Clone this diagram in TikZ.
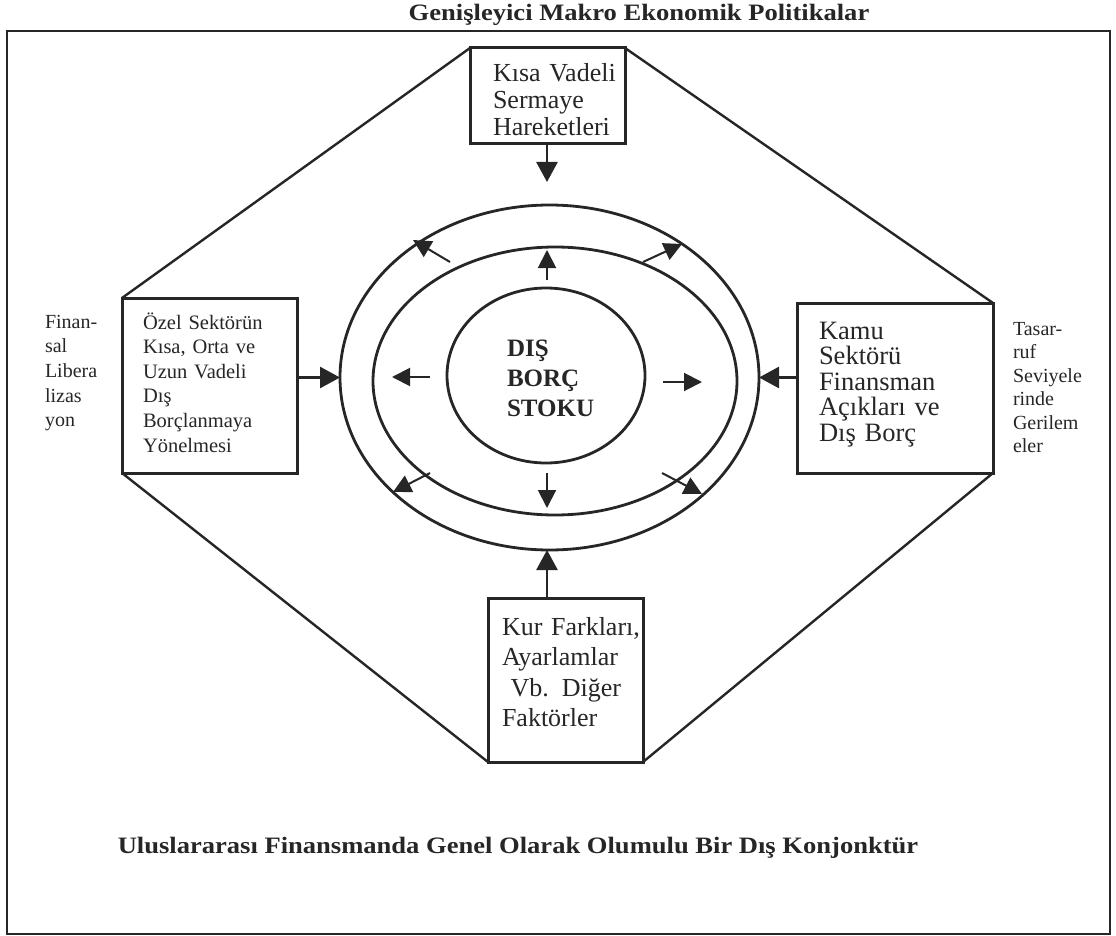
\documentclass[tikz,border=0pt]{standalone}
\usepackage{fontspec}
\setmainfont{Liberation Serif}
\newfontfamily\widebf[FakeStretch=1.13]{Liberation Serif}
\usetikzlibrary{arrows.meta,shapes.geometric}
\begin{document}
\begin{tikzpicture}[x=1pt,y=-1pt,
  ink/.style={draw=black!85},
  boxst/.style={ink, line width=3pt, inner sep=0pt, outer sep=0pt},
  ring/.style={ink, ellipse, line width=2.8pt, inner sep=0pt, outer sep=0pt},
  edge/.style={ink, line width=2.4pt},
  txt/.style={inner sep=0pt, outer sep=0pt, align=left, text=black!85},
  bigarrow/.style={ink, line width=2.6pt, -{Triangle[length=20pt,width=21pt]}},
  smallarrow/.style={ink, line width=2pt, -{Triangle[length=18pt,width=18pt]}}
]
\useasboundingbox (0,0) rectangle (1116,936);
% outer frame
\draw[ink, line width=2.5pt] (7,31) rectangle (1110,934);
\node[txt, anchor=base, font=\widebf\bfseries\fontsize{23.5}{28}\selectfont] (title) at (639,21) {Genişleyici Makro Ekonomik Politikalar};
\node[txt, anchor=base, font=\widebf\bfseries\fontsize{23.5}{28}\selectfont] (konj) at (518,853) {Uluslararası Finansmanda Genel Olarak Olumulu Bir Dış Konjonktür};

% boxes
\node[boxst, minimum width=155pt, minimum height=96pt] (kisa) at (547.5,96) {};
\node[boxst, minimum width=175pt, minimum height=175pt] (ozel) at (209.5,385.5) {};
\node[boxst, minimum width=196pt, minimum height=170pt] (kamu) at (895,388) {};
\node[boxst, minimum width=155pt, minimum height=164pt] (kur) at (565.5,680) {};

% octagon edges
\draw[edge] (kisa.north west) -- (ozel.north west);
\draw[edge] (kisa.north east) -- (kamu.north east);
\draw[edge] (ozel.south west) -- (kur.south west);
\draw[edge] (kamu.south east) -- (kur.south east);

% box texts
\node[txt, anchor=base west, text width=140pt, font=\fontsize{26}{27}\selectfont] (kisaT) at (493,82) {Kısa Vadeli\\Sermaye\\Hareketleri};
\node[txt, anchor=base west, text width=150pt, font=\fontsize{20.5}{24.6}\selectfont] (ozelT) at (143,329) {Özel Sektörün\\Kısa, Orta ve\\Uzun Vadeli\\Dış\\Borçlanmaya\\Yönelmesi};
\node[txt, anchor=base west, text width=170pt, font=\fontsize{26.5}{25.5}\selectfont] (kamuT) at (819,339) {Kamu\\Sektörü\\Finansman\\Açıkları ve\\Dış Borç};
\node[txt, anchor=base west, text width=150pt, font=\fontsize{26}{30.5}\selectfont] (kurT) at (502,635) {Kur Farkları,\\Ayarlamlar\\\ Vb. Diğer\\Faktörler};

% side labels
\node[txt, anchor=base west, text width=70pt, font=\fontsize{20}{24.7}\selectfont] (finL) at (45,328) {Finan-\\sal\\Libera\\lizas\\yon};
\node[txt, anchor=base west, text width=90pt, font=\fontsize{20}{23.5}\selectfont] (tasL) at (1013,335) {Tasar-\\ruf\\Seviyele\\rinde\\Gerilem\\eler};

% rings
\node[ring, minimum width=419pt, minimum height=345pt] (outer) at (549.5,377.5) {};
\node[ring, minimum width=364pt, minimum height=268pt] (middle) at (555,381) {};
\node[ring, minimum width=198pt, minimum height=175pt] (inner) at (546,375.5) {};
\node[txt, anchor=base west, text width=110pt, font=\bfseries\fontsize{25}{30}\selectfont] (stok) at (507,356) {DIŞ\\BORÇ\\STOKU};

% inward arrows
\coordinate (tTop) at (547,182);
\draw[bigarrow] (kisa.south -| tTop) -- (tTop);
\draw[bigarrow] (ozel.east |- outer.west) -- (outer.west);
\draw[bigarrow] (kamu.west |- outer.east) -- (outer.east);
\draw[bigarrow] (kur.north -| 547,0) -- (outer.south -| 547,0);

% outward arrows between rings
\coordinate (aT1) at (547,280); \coordinate (aT2) at (547,250);
\coordinate (aL1) at (430,377); \coordinate (aL2) at (392,377);
\coordinate (aR1) at (663,382); \coordinate (aR2) at (702,382);
\coordinate (aB1) at (547,473); \coordinate (aB2) at (547,508);
\coordinate (aTL1) at (450,262); \coordinate (aTL2) at (413,240);
\coordinate (aTR1) at (643,262); \coordinate (aTR2) at (682,244);
\coordinate (aBL1) at (430,473); \coordinate (aBL2) at (393,492);
\coordinate (aBR1) at (662,473); \coordinate (aBR2) at (702,494);
\foreach \d in {T,L,R,B,TL,TR,BL,BR}{
  \draw[smallarrow] (a\d1) -- (a\d2);
}
\end{tikzpicture}
\end{document}
